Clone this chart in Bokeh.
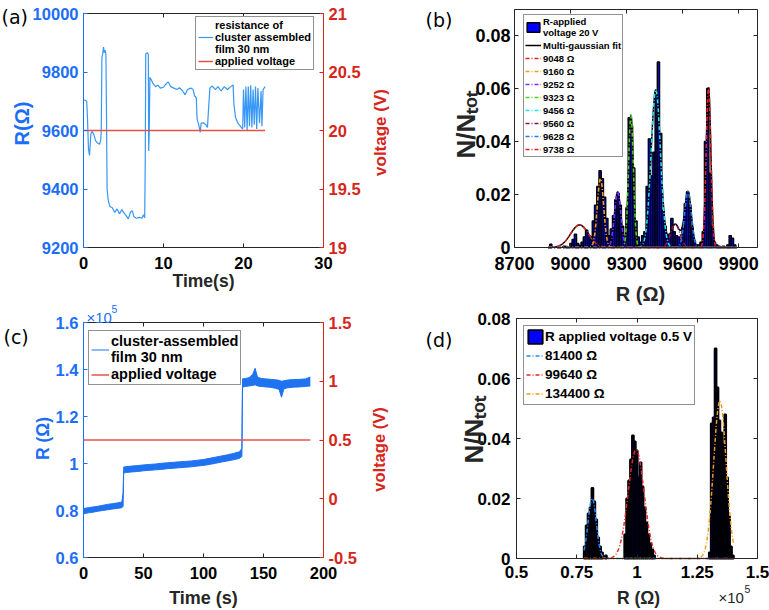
import math
import numpy as np
from bokeh.plotting import figure
from bokeh.models import (Range1d, LinearAxis, FixedTicker, NumeralTickFormatter,
                          Legend, LegendItem, Label)
from bokeh.layouts import row, column
from bokeh.embed import file_html
from bokeh.resources import INLINE

# ---------------- data ----------------
# (a) resistance vs time, 20 V
t_a = [0.05, 0.4, 0.5, 0.62, 0.75, 0.92, 1.1, 1.3, 1.5, 1.7, 2.0, 2.15, 2.22, 2.3, 2.4, 2.5,
       2.6, 2.7, 2.8, 2.86, 2.95, 3.1, 3.3, 3.6, 3.9, 4.2, 4.5, 4.8, 5.0, 5.3, 5.6, 5.9, 6.1,
       6.3, 6.6, 7.0, 7.3, 7.5, 7.65, 7.72, 7.78, 8.0, 8.1, 8.15, 8.22, 8.3, 8.5, 8.7, 9.0,
       9.3, 9.6, 10.0, 10.4, 10.6, 10.9, 11.3, 11.7, 12.0, 12.4, 12.7, 13.0, 13.4, 13.7, 13.9,
       14.1, 14.2, 14.4, 14.6, 14.7, 15.0, 15.3, 15.5, 15.6, 15.8, 16.1, 16.5, 16.8, 17.2,
       17.6, 18.0, 18.4, 18.7, 18.8, 19.0, 19.3, 19.6, 19.9, 20.0, 20.15, 20.3, 20.45, 20.6,
       20.75, 20.9, 21.05, 21.2, 21.35, 21.5, 21.65, 21.8, 22.0, 22.2, 22.3, 22.45, 22.7]
R_a = [9705, 9700, 9640, 9537, 9515, 9589, 9597, 9585, 9566, 9558, 9553, 9565, 9600, 9850,
       9862, 9885, 9866, 9875, 9862, 9700, 9400, 9360, 9340, 9336, 9320, 9332, 9315, 9330,
       9320, 9310, 9298, 9322, 9326, 9305, 9300, 9303, 9300, 9312, 9302, 9500, 9862, 9866,
       9860, 9530, 9600, 9782, 9772, 9760, 9750, 9755, 9745, 9748, 9762, 9766, 9750, 9745,
       9740, 9746, 9735, 9722, 9740, 9745, 9740, 9718, 9712, 9640, 9620, 9594, 9625, 9626,
       9620, 9610, 9660, 9745, 9752, 9740, 9750, 9735, 9750, 9740, 9750, 9756, 9690, 9645,
       9625, 9615, 9605, 9740, 9610, 9750, 9600, 9750, 9615, 9755, 9610, 9740, 9620, 9750,
       9605, 9745, 9625, 9735, 9615, 9740, 9750]
tv_a = [0, 22.7]
V_a = [20, 20]

# (b) histogram at 20 V (bin centres, Ohm) and multi-gaussian fit parameters
b_bins = [8894, 8966, 8978, 9002, 9014, 9026, 9038, 9050, 9062, 9074, 9086, 9098, 9110,
          9122, 9134, 9146, 9158, 9170, 9182, 9194, 9206, 9218, 9230, 9242, 9254, 9266,
          9278, 9290, 9302, 9314, 9326, 9338, 9350, 9362, 9374, 9386, 9398, 9410, 9422,
          9434, 9446, 9458, 9470, 9482, 9494, 9506, 9518, 9530, 9542, 9554, 9566, 9578,
          9590, 9602, 9614, 9626, 9638, 9650, 9662, 9674, 9686, 9698, 9710, 9722, 9734,
          9746, 9758, 9770, 9782, 9794, 9818, 9842, 9854, 9866, 9878]
b_freq = [0.0012, 0.0005, 0.0004, 0.0015, 0.003, 0.005, 0.0015, 0.0008, 0.002, 0.004,
          0.0065, 0.0045, 0.003, 0.010, 0.016, 0.023, 0.029, 0.026, 0.019, 0.011, 0.0045,
          0.007, 0.012, 0.018, 0.0205, 0.016, 0.008, 0.003, 0.015, 0.049, 0.046, 0.030,
          0.010, 0.004, 0.002, 0.0045, 0.006, 0.023, 0.041, 0.027, 0.036, 0.059, 0.070,
          0.043, 0.014, 0.008, 0.0045, 0.005, 0.011, 0.006, 0.0045, 0.004, 0.003, 0.0075,
          0.0165, 0.021, 0.016, 0.0077, 0.0025, 0.001, 0.001, 0.002, 0.006, 0.040, 0.060,
          0.028, 0.008, 0.002, 0.001, 0.0005, 0.0005, 0.001, 0.0045, 0.0035, 0.001]
b_width = 12
b_centers = [9048, 9160, 9252, 9323, 9456, 9560, 9628, 9738]
b_peaks = [0.0085, 0.026, 0.021, 0.050, 0.0595, 0.0088, 0.021, 0.0605]
b_sigmas = [48, 17, 17, 13, 25, 25, 18, 12.5]
b_labels = ["9048 \u03a9", "9160 \u03a9", "9252 \u03a9", "9323 \u03a9",
            "9456 \u03a9", "9560 \u03a9", "9628 \u03a9", "9738 \u03a9"]
b_colors = ["#e8201c", "#f0a020", "#7b2ff7", "#4cd21c", "#1ee6f0", "#8b1a3a",
            "#1e7ef0", "#ee1c24"]

# (c) resistance vs time, 0.5 V (x 1e5 Ohm): lower / upper envelope of the noisy trace
t_c = [0, 4, 8, 12, 16, 20, 24, 28, 32, 33, 33.5, 36, 40, 45, 50, 55, 60, 65, 70, 75, 80,
       85, 90, 95, 100, 105, 110, 115, 120, 125, 130, 132, 132.5, 135, 138, 141, 143, 145,
       148, 152, 156, 160, 163, 165, 167, 170, 175, 180, 185, 189]
Rlo_c = [0.786, 0.790, 0.793, 0.797, 0.800, 0.803, 0.806, 0.809, 0.812, 0.818, 0.960,
         0.962, 0.964, 0.966, 0.969, 0.971, 0.973, 0.975, 0.978, 0.980, 0.982, 0.984,
         0.986, 0.989, 0.992, 0.996, 1.001, 1.006, 1.011, 1.016, 1.022, 1.030, 1.325,
         1.328, 1.330, 1.332, 1.335, 1.330, 1.328, 1.326, 1.324, 1.320, 1.315, 1.282,
         1.318, 1.322, 1.325, 1.326, 1.328, 1.330]
Rhi_c = [0.808, 0.812, 0.815, 0.818, 0.822, 0.826, 0.829, 0.832, 0.836, 0.875, 0.985,
         0.987, 0.989, 0.991, 0.994, 0.996, 0.998, 1.001, 1.003, 1.005, 1.007, 1.009,
         1.011, 1.014, 1.017, 1.022, 1.027, 1.032, 1.037, 1.043, 1.050, 1.065, 1.360,
         1.362, 1.365, 1.380, 1.405, 1.368, 1.362, 1.360, 1.358, 1.356, 1.354, 1.350,
         1.352, 1.355, 1.357, 1.358, 1.360, 1.368]
tv_c = [0, 189]
V_c = [0.5, 0.5]

# (d) histogram at 0.5 V (bin centres, x 1e5 Ohm) and gaussian fits
d_bins = [0.783, 0.791, 0.799, 0.807, 0.815, 0.823, 0.831, 0.839, 0.847, 0.855, 0.871,
          0.951, 0.959, 0.967, 0.975, 0.983, 0.991, 0.999, 1.007, 1.015, 1.023, 1.031,
          1.039, 1.047, 1.055, 1.063, 1.071, 1.302, 1.310, 1.318, 1.326, 1.334, 1.342,
          1.350, 1.358, 1.366, 1.374, 1.382, 1.390, 1.398]
d_freq = [0.004, 0.011, 0.015, 0.017, 0.0235, 0.019, 0.013, 0.007, 0.004, 0.002, 0.001,
          0.008, 0.020, 0.026, 0.033, 0.041, 0.039, 0.036, 0.027, 0.032, 0.024, 0.017,
          0.012, 0.008, 0.005, 0.003, 0.001, 0.002, 0.045, 0.047, 0.070, 0.057, 0.046,
          0.042, 0.038, 0.048, 0.027, 0.014, 0.004, 0.001]
d_width = 0.008
d_centers = [0.814, 0.9964, 1.344]
d_peaks = [0.020, 0.0362, 0.0525]
d_sigmas = [0.017, 0.033, 0.026]
d_labels = ["81400 \u03a9", "99640 \u03a9", "134400 \u03a9"]
d_colors = ["#1e8ef0", "#e8281e", "#f09a1a"]

# ---------------- styling ----------------
FONT = "Liberation Sans"
DARK = "#262626"
BLUE_AX = "#1c6ef7"
RED_AX = "#d6251b"
TRACE_A = "#3797f5"
TRACE_C = "#1f72f0"
VLINE = "#e8504a"
NNTOT = "N/N\u209c\u2092\u209c"
HALF_PI = math.pi / 2


def lin_range(v0, v1, p0, p1, total):
    # range whose values v0 / v1 fall at pixels p0 / p1 of a canvas of given size
    s = (p1 - p0) / (v1 - v0)
    return Range1d(v0 - p0 / s, v1 + (total - p1) / s)


def make_fig(w, h, xr, yr):
    p = figure(width=w, height=h, x_range=xr, y_range=yr, output_backend="svg",
               toolbar_location=None, x_axis_location=None, y_axis_location=None,
               min_border=0, min_border_left=0, min_border_right=0,
               min_border_top=0, min_border_bottom=0)
    p.grid.visible = False
    p.outline_line_color = None
    p.background_fill_color = "white"
    p.border_fill_color = "white"
    return p


def add_axis(p, place, loc, bounds, ticks, color, label_color, size="16px", standoff=5,
             fmt=None, hidden=False, y_range_name=None):
    kw = {}
    if y_range_name:
        kw["y_range_name"] = y_range_name
    ax = LinearAxis(fixed_location=loc, bounds=bounds, ticker=FixedTicker(ticks=ticks),
                    major_tick_in=4, major_tick_out=0, minor_tick_line_color=None,
                    axis_line_color=color, major_tick_line_color=color,
                    axis_line_width=1, **kw)
    if hidden:
        ax.major_label_text_font_size = "0px"
        ax.major_label_text_color = None
        ax.major_label_standoff = 0
    else:
        ax.major_label_text_font = FONT
        ax.major_label_text_font_style = "bold"
        ax.major_label_text_font_size = size
        ax.major_label_text_color = label_color
        ax.major_label_standoff = standoff
        if fmt:
            ax.formatter = NumeralTickFormatter(format=fmt)
    p.add_layout(ax, place)


def lab(p, cl, cb, X, Y, text, size, color=DARK, bold=True, angle=0.0, align="center",
        baseline="middle", font=FONT):
    # X, Y are page pixels; cl / cb are the canvas left / bottom of this figure
    p.add_layout(Label(x=X - cl, y=cb - Y, x_units="screen", y_units="screen", text=text,
                       text_font=font, text_font_size=size,
                       text_font_style="bold" if bold else "normal",
                       text_color=color, angle=angle, text_align=align,
                       text_baseline=baseline))


def legend(p, items, loc, size, lh, glyph_w, glyph_h, label_h, spacing, padding, standoff):
    lg = Legend(items=items, location=loc, label_text_font=FONT,
                label_text_font_style="bold", label_text_font_size=size,
                label_text_line_height=lh, label_text_color="black",
                glyph_width=glyph_w, glyph_height=glyph_h, label_height=label_h,
                spacing=spacing, padding=padding, label_standoff=standoff, margin=0,
                border_line_color=DARK, border_line_width=1,
                background_fill_color="white", background_fill_alpha=1.0)
    p.add_layout(lg)


# ---------------- (a)  canvas x 0..400, y 0..295 ----------------
pa = make_fig(400, 295, lin_range(0, 30, 83, 323, 400),
              lin_range(9200, 10000, 295 - 247, 295 - 13, 295))
pa.extra_y_ranges = {"v": lin_range(19, 21, 295 - 247, 295 - 13, 295)}
add_axis(pa, "below", 9200, (0, 30), [0, 10, 20, 30], DARK, "black", "16.5px", standoff=9)
add_axis(pa, "above", 10000, (0, 30), [0, 10, 20, 30], DARK, DARK, hidden=True)
add_axis(pa, "left", 0, (9200, 10000), [9200, 9400, 9600, 9800, 10000], BLUE_AX, BLUE_AX,
         "16.5px")
add_axis(pa, "right", 30, (19, 21), [19, 19.5, 20, 20.5, 21], RED_AX, RED_AX, "16.5px",
         fmt="0.[0]", y_range_name="v")
ra = pa.line(t_a, R_a, line_color=TRACE_A, line_width=1.2)
rva = pa.line(tv_a, V_a, line_color=VLINE, line_width=1.5, y_range_name="v")
legend(pa, [LegendItem(label="resistance of\ncluster assembled\nfilm 30 nm", renderers=[ra]),
            LegendItem(label="applied voltage", renderers=[rva])],
       (195, 295 - 70), "11px", 1.2, 15, 12, 12, 0, 2, 2)
lab(pa, 0, 295, 1, 16.5, "(a)", "19px", "black", False, align="left", font="DejaVu Sans")
lab(pa, 0, 295, 21, 123, "R(\u03a9)", "20px", BLUE_AX, angle=HALF_PI)
lab(pa, 0, 295, 380, 132, "voltage (V)", "17px", RED_AX, angle=HALF_PI)
lab(pa, 0, 295, 203, 280, "Time(s)", "17.5px")

# ---------------- (b)  canvas x 400..769, y 0..305 ----------------
pb = make_fig(369, 305, lin_range(8700, 10000, 114, 357, 369),
              lin_range(0, 0.09, 305 - 247, 305 - 8.5, 305))
add_axis(pb, "below", 0, (8700, 10000), [8700, 9000, 9300, 9600, 9900], DARK, "black",
         "18px", standoff=9)
add_axis(pb, "above", 0.09, (8700, 10000), [8700, 9000, 9300, 9600, 9900], DARK, DARK,
         hidden=True)
add_axis(pb, "left", 8700, (0, 0.09), [0, 0.02, 0.04, 0.06, 0.08], DARK, "black",
         "18px", standoff=4, fmt="0.[00]")
add_axis(pb, "right", 10000, (0, 0.09), [0, 0.02, 0.04, 0.06, 0.08], DARK, DARK,
         hidden=True)
rb = pb.vbar(x=b_bins, top=b_freq, width=b_width, fill_color="#0000ff",
             line_color="black", line_width=1.4)
xb = np.linspace(8880, 9890, 700)
comps_b = [pk * np.exp(-0.5 * ((xb - c) / s) ** 2)
           for c, pk, s in zip(b_centers, b_peaks, b_sigmas)]
rfit = pb.line(xb, np.sum(comps_b, axis=0), line_color="black", line_width=1.5)
items_b = [LegendItem(label="R-applied\nvoltage 20 V", renderers=[rb]),
           LegendItem(label="Multi-gaussian fit", renderers=[rfit])]
for yc, col, lb in zip(comps_b, b_colors, b_labels):
    r = pb.line(xb, yc, line_color=col, line_width=1.6, line_dash="4 2 1 2")
    items_b.append(LegendItem(label=lb, renderers=[r]))
legend(pb, items_b, (523 - 400, 305 - 157), "9.5px", 1.25, 16, 12, 12, 1, 1, 2)
lab(pb, 400, 305, 425, 19, "(b)", "19px", "black", False, align="left", font="DejaVu Sans")
lab(pb, 400, 305, 465, 158, NNTOT, "26px", DARK, angle=HALF_PI, align="left",
    baseline="alphabetic")
lab(pb, 400, 305, 640, 293, "R (\u03a9)", "20px")

# ---------------- (c)  canvas x 0..400, y 295..610 ----------------
pc = make_fig(400, 315, lin_range(0, 200, 83, 323, 400),
              lin_range(0.6, 1.6, 610 - 557, 610 - 322, 315))
pc.extra_y_ranges = {"v": lin_range(-0.5, 1.5, 610 - 557, 610 - 322, 315)}
add_axis(pc, "below", 0.6, (0, 200), [0, 50, 100, 150, 200], DARK, "black", "16.5px",
         standoff=9)
add_axis(pc, "above", 1.6, (0, 200), [0, 50, 100, 150, 200], DARK, DARK, hidden=True)
add_axis(pc, "left", 0, (0.6, 1.6), [0.6, 0.8, 1.0, 1.2, 1.4, 1.6], BLUE_AX, BLUE_AX,
         "16.5px", fmt="0.[0]")
add_axis(pc, "right", 200, (-0.5, 1.5), [-0.5, 0, 0.5, 1, 1.5], RED_AX, RED_AX, "16.5px",
         fmt="0.[0]", y_range_name="v")
pc.varea(x=t_c, y1=Rlo_c, y2=Rhi_c, fill_color=TRACE_C)
rc = pc.line(t_c, Rhi_c, line_color=TRACE_C, line_width=1)
pc.line(t_c, Rlo_c, line_color=TRACE_C, line_width=1)
rvc = pc.line(tv_c, V_c, line_color=VLINE, line_width=1.5, y_range_name="v")
legend(pc, [LegendItem(label="cluster-assembled\nfilm 30 nm", renderers=[rc]),
            LegendItem(label="applied voltage", renderers=[rvc])],
       (88, 610 - 385), "14.5px", 1.25, 18, 15, 15, 1, 2, 2)
lab(pc, 0, 610, 3, 336, "(c)", "19px", "black", False, align="left", font="DejaVu Sans")
lab(pc, 0, 610, 86, 317, "\u00d710", "15px", BLUE_AX, False, align="left",
    baseline="alphabetic")
lab(pc, 0, 610, 111, 308, "5", "10.5px", BLUE_AX, False, align="left",
    baseline="alphabetic")
lab(pc, 0, 610, 42, 438, "R (\u03a9)", "17.5px", BLUE_AX, angle=HALF_PI)
lab(pc, 0, 610, 378.5, 449, "voltage (V)", "16.5px", RED_AX, angle=HALF_PI)
lab(pc, 0, 610, 203, 597, "Time (s)", "18px")

# ---------------- (d)  canvas x 400..769, y 305..610 ----------------
pd = make_fig(369, 305, lin_range(0.5, 1.5, 116, 357, 369),
              lin_range(0, 0.08, 610 - 558, 610 - 318, 305))
add_axis(pd, "below", 0, (0.5, 1.5), [0.5, 0.75, 1.0, 1.25, 1.5], DARK, "black",
         "17px", standoff=7, fmt="0.[00]")
add_axis(pd, "above", 0.08, (0.5, 1.5), [0.5, 0.75, 1.0, 1.25, 1.5], DARK, DARK,
         hidden=True)
add_axis(pd, "left", 0.5, (0, 0.08), [0, 0.02, 0.04, 0.06, 0.08], DARK, "black",
         "17px", standoff=6, fmt="0.[00]")
add_axis(pd, "right", 1.5, (0, 0.08), [0, 0.02, 0.04, 0.06, 0.08], DARK, DARK,
         hidden=True)
rd = pd.vbar(x=d_bins, top=d_freq, width=d_width, fill_color="#0000ff",
             line_color="black", line_width=1.8)
xd = np.linspace(0.78, 1.40, 600)
items_d = [LegendItem(label="R applied voltage 0.5 V", renderers=[rd])]
for c, pk, s, col, lb in zip(d_centers, d_peaks, d_sigmas, d_colors, d_labels):
    r = pd.line(xd, pk * np.exp(-0.5 * ((xd - c) / s) ** 2), line_color=col,
                line_width=1.5, line_dash="4 2 1 2")
    items_d.append(LegendItem(label=lb, renderers=[r]))
legend(pd, items_d, (523 - 400, 610 - 405), "13.5px", 1.2, 18, 17, 17, 2, 2, 1)
lab(pd, 400, 610, 425, 339, "(d)", "19px", "black", False, align="left", font="DejaVu Sans")
lab(pd, 400, 610, 473, 463, NNTOT, "26px", DARK, angle=HALF_PI, align="left",
    baseline="alphabetic")
lab(pd, 400, 610, 638, 597, "R (\u03a9)", "17.5px")
lab(pd, 400, 610, 718, 597, "\u00d710", "15px", DARK, False, align="left",
    baseline="alphabetic")
lab(pd, 400, 610, 744, 588, "5", "10.5px", DARK, False, align="left",
    baseline="alphabetic")

layout = row(column(pa, pc), column(pb, pd))
open("out.html", "w").write(file_html(layout, INLINE))
